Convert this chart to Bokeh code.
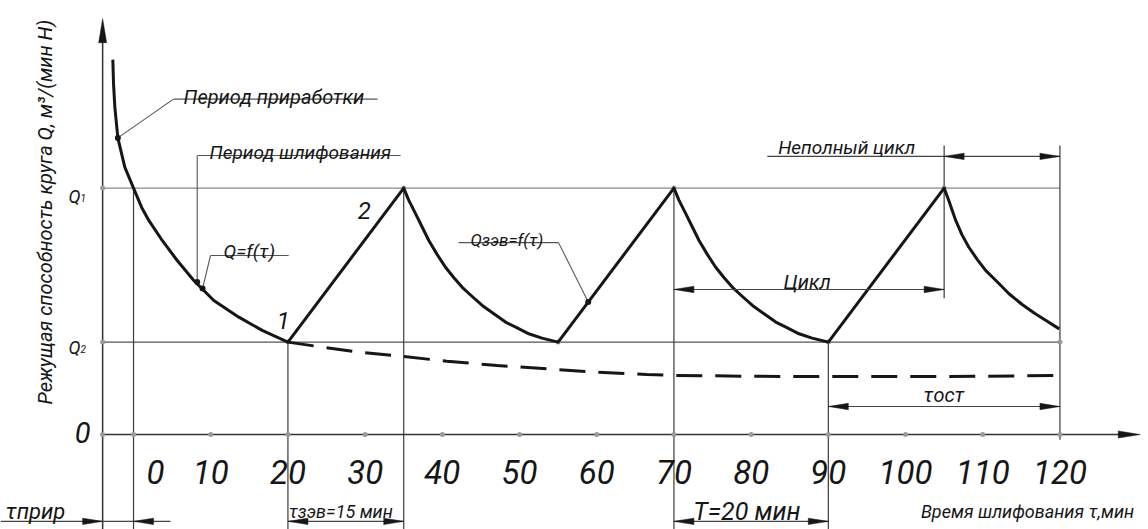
import math
from bokeh.plotting import figure
from bokeh.models import Range1d
from bokeh.core.properties import value
from bokeh.embed import file_html
from bokeh.resources import INLINE

# ---------------- data ----------------
# running-in curve  Q = f(tau)
t_run = [-2.68, -2.59, -2.42, -2.03, -1.13, 0.0, 1.04, 1.98, 3.72, 5.66, 7.81, 10.4, 13.64, 16.67, 20.0]
q_run = [12.17, 11.39, 10.63, 9.63, 8.68, 8.0, 7.38, 6.95, 6.30, 5.65, 5.0, 4.35, 3.81, 3.38, 3.0]
# saw-tooth cycles  Q_zev = f(tau)
t_saw = [20, 35, 35.66, 36.53, 37.4, 38.25, 39.34, 40.41, 41.5, 42.58, 43.87, 45.17, 46.67, 48.19, 49.7, 51.2, 52.9, 55,
         70, 70.66, 71.53, 72.4, 73.25, 74.34, 75.41, 76.5, 77.58, 78.87, 80.17, 81.67, 83.19, 84.7, 86.2, 87.9, 90,
         105, 105.6, 106.5, 107.3, 108.2, 109.3, 110.4, 111.9, 113.4, 115.1, 116.8, 118.4, 119.9]
q_saw = [3.0, 8.0, 7.6, 7.17, 6.73, 6.30, 5.84, 5.43, 5.09, 4.78, 4.48, 4.19, 3.92, 3.65, 3.46, 3.27, 3.13, 3.0,
         8.0, 7.6, 7.17, 6.73, 6.30, 5.84, 5.43, 5.09, 4.78, 4.48, 4.19, 3.92, 3.65, 3.46, 3.27, 3.13, 3.0,
         8.0, 7.6, 6.95, 6.49, 6.08, 5.68, 5.32, 4.95, 4.57, 4.22, 3.92, 3.67, 3.43]
# dashed curve (wear without dressing)
t_dash = [20, 23.8, 29.4, 35, 40.6, 47.1, 53.6, 60.1, 66.5, 70, 80, 90, 100, 110, 120]
q_dash = [3.0, 2.86, 2.67, 2.53, 2.38, 2.24, 2.13, 2.02, 1.95, 1.92, 1.89, 1.88, 1.88, 1.89, 1.92]

Q1 = 8.0
Q2 = 3.0
tick_values = [0, 10, 20, 30, 40, 50, 60, 70, 80, 90, 100, 110, 120]
tick_labels = ["0", "10", "20", "30", "40", "50", "60", "70", "80", "90", "100", "110", "120"]
peaks = [35, 70, 105]
valleys = [20, 55, 90]
t_axis0 = -4.0      # vertical axis position on the time scale
t_end = 120

# ---------------- figure ----------------
W, H = 1148, 529
X0, X1 = -17.23, 131.47
Y0, Y1 = -3.084, 14.091
SX = W / (X1 - X0)
SY = H / (Y1 - Y0)

FONT = value("Roboto")
INK = "#161616"

p = figure(width=W, height=H, x_range=Range1d(X0, X1), y_range=Range1d(Y0, Y1),
           output_backend="svg", toolbar_location=None, min_border=0)
p.xaxis.visible = False
p.yaxis.visible = False
p.grid.visible = False
p.outline_line_color = None
p.background_fill_color = "white"
p.border_fill_color = "white"

heads_x, heads_y = [], []


def head(tx, ty, d, L=20, hw=3.2):
    dx, dy = {"right": (1, 0), "left": (-1, 0), "up": (0, 1), "down": (0, -1)}[d]
    bx, by = -dx * L, -dy * L
    px_, py_ = -dy * hw, dx * hw
    heads_x.append([tx, tx + (bx + px_) / SX, tx + (bx - px_) / SX])
    heads_y.append([ty, ty + (by + py_) / SY, ty + (by - py_) / SY])


def seg(x, y, color="#333", w=1.2, dash="solid"):
    p.line(x, y, line_color=color, line_width=w, line_dash=dash)


def txt(x, y, s, size, align="left", base="alphabetic", angle=0.0, color=INK):
    p.text(x=[x], y=[y], text=[s], text_font=FONT, text_font_style="italic",
           text_font_size=size, text_align=align, text_baseline=base,
           angle=angle, text_color=color)


# reference horizontals Q1, Q2
seg([t_axis0, t_end], [Q1, Q1], "#8a8a8a", 1.1)
seg([t_axis0, t_end], [Q2, Q2], "#555", 1.1)

# extension / vertical lines
seg([0, 0], [Q1, Y0], "#3a3a3a", 1.2)
seg([20, 20], [Q2, Y0], "#3a3a3a", 1.2)
seg([35, 35], [Q1, Y0], "#3a3a3a", 1.2)
seg([70, 70], [Q1, Y0], "#3a3a3a", 1.2)
seg([90, 90], [Q2, Y0], "#3a3a3a", 1.2)
seg([105, 105], [9.38, 4.42], "#3a3a3a", 1.2)
seg([120, 120], [9.38, -0.17], "#3a3a3a", 1.2)

# axes
seg([t_axis0, 128.0], [0, 0], "#333", 1.5)
head(130.4, 0, "right", L=22, hw=3.5)
seg([t_axis0, t_axis0], [Y0, 12.9], "#333", 1.5)
head(t_axis0, 13.5, "up", L=24, hw=4)

# dots on ticks / key points
dot_x = [t_axis0] + tick_values + [t_axis0, t_axis0] + peaks + valleys + [t_end]
dot_y = [0] * (1 + len(tick_values)) + [Q1, Q2] + [Q1] * 3 + [Q2] * 3 + [Q2]
p.scatter(dot_x, dot_y, size=5, fill_color="#9a9a9a", line_color=None)

# curves
p.line(t_dash, q_dash, line_color=INK, line_width=3, line_dash="26 13")
p.line(t_run + t_saw, q_run + q_saw, line_color=INK, line_width=3, line_join="round")

# ---------------- annotations ----------------
LEAD = "#555"
# Период приработки
seg([5.18, 31.6], [10.89, 10.89], LEAD, 1.1)
seg([5.18, -2.03], [10.89, 9.63], LEAD, 1.1)
txt(6.48, 10.97, "Период приработки", "20px")
# Период шлифования
seg([8.29, 34.6], [9.06, 9.06], LEAD, 1.1)
seg([8.25, 8.25], [9.06, 4.95], LEAD, 1.1)
txt(9.84, 9.16, "Период шлифования", "19px")
# Q=f(τ)
seg([9.97, 20.1], [5.81, 5.81], LEAD, 1.1)
seg([9.97, 8.94], [5.81, 4.74], LEAD, 1.1)
txt(11.66, 5.93, "Q=f(τ)", "19px")
# Qзэв=f(τ)
seg([42.1, 55.05], [6.23, 6.23], LEAD, 1.1)
seg([55.05, 58.9], [6.23, 4.3], LEAD, 1.1)
txt(43.65, 6.33, "Qзэв=f(τ)", "17px")
p.scatter([-2.03, 8.25, 8.94, 58.9], [9.63, 4.95, 4.74, 4.3], size=6, fill_color=INK, line_color=None)

# point numbers
txt(19.4, 3.70, "1", "24px", align="center", base="middle")
txt(29.9, 7.27, "2", "24px", align="center", base="middle")

# y labels
txt(-6.87, 7.73, "Q", "18px", align="right")
txt(-6.87, 7.68, "1", "10px")
txt(-6.87, 2.82, "Q", "18px", align="right")
txt(-6.87, 2.77, "2", "10px")
txt(-5.57, 0.05, "0", "29px", align="right")

# y title
txt(-11.5, 7.22, "Режущая способность круга Q, м³/(мин Н)", "20px",
    align="center", base="middle", angle=math.pi / 2)

# x tick labels
lab_x = [v if v != 0 else 2.85 for v in tick_values]
p.text(x=lab_x, y=[-1.23] * len(lab_x), text=tick_labels, text_font=FONT,
       text_font_style="italic", text_font_size="33px", text_align="center",
       text_baseline="alphabetic", text_color=INK)

# Неполный цикл
seg([82.1, 120], [9.03, 9.03], "#444", 1.1)
head(105, 9.03, "left")
head(120, 9.03, "right")
txt(83.5, 9.32, "Неполный цикл", "19px")
# Цикл
seg([70, 105], [4.71, 4.71], "#444", 1.1)
head(70, 4.71, "left")
head(105, 4.71, "right")
txt(84.2, 4.94, "Цикл", "20px")
# τост
seg([90, 120], [0.91, 0.91], "#444", 1.1)
head(90, 0.91, "left")
head(120, 0.91, "right")
txt(102.3, 1.27, "τост", "20px")

# bottom dimensions
YB = -2.82
YT = -2.50
seg([70, 90], [YB, YB], "#444", 1.1)
head(70, YB, "left")
head(90, YB, "right")
txt(72.5, YT, "T=20 мин", "25px")
seg([20, 35], [YB, YB], "#444", 1.1)
head(20, YB, "left")
head(35, YB, "right")
txt(20.1, YT, "τзэв=15 мин", "18px")
seg([X0, 4.79], [YB, YB], "#444", 1.1)
head(t_axis0, YB, "right")
head(0, YB, "left")
txt(-16.58, YT, "τприр", "22px")
txt(102.0, -2.50, "Время шлифования τ,мин", "18px")

p.patches(heads_x, heads_y, fill_color=INK, line_color=INK, line_width=0.5)

open("out.html", "w").write(file_html(p, INLINE))
